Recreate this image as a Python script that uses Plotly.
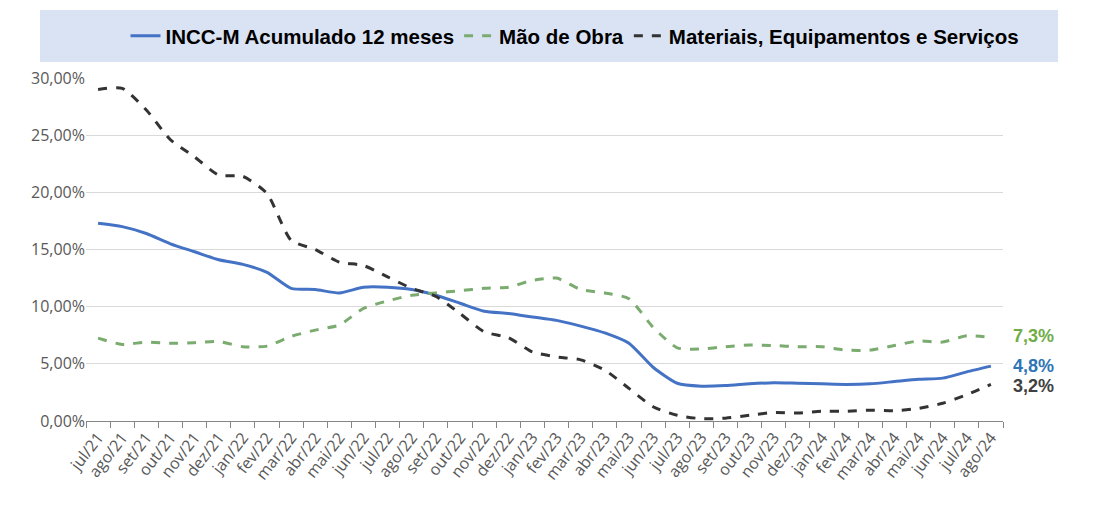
import plotly.graph_objects as go

months = ["jul/21","ago/21","set/21","out/21","nov/21","dez/21","jan/22","fev/22","mar/22","abr/22",
          "mai/22","jun/22","jul/22","ago/22","set/22","out/22","nov/22","dez/22","jan/23","fev/23",
          "mar/23","abr/23","mai/23","jun/23","jul/23","ago/23","set/23","out/23","nov/23","dez/23",
          "jan/24","fev/24","mar/24","abr/24","mai/24","jun/24","jul/24","ago/24"]

incc = [17.3, 17.0, 16.4, 15.5, 14.8, 14.1, 13.7, 13.0, 11.6, 11.5,
        11.2, 11.7, 11.7, 11.5, 11.0, 10.3, 9.6, 9.4, 9.1, 8.8,
        8.3, 7.7, 6.8, 4.7, 3.3, 3.05, 3.1, 3.25, 3.35, 3.3,
        3.25, 3.2, 3.25, 3.45, 3.65, 3.75, 4.3, 4.8]

mao_obra = [7.25, 6.7, 6.9, 6.8, 6.85, 6.95, 6.5, 6.55, 7.4, 7.95,
            8.4, 9.85, 10.5, 11.0, 11.2, 11.4, 11.6, 11.7, 12.3, 12.5,
            11.5, 11.2, 10.7, 8.2, 6.4, 6.3, 6.5, 6.65, 6.6, 6.5,
            6.5, 6.2, 6.2, 6.6, 7.0, 6.9, 7.45, 7.3]

materiais = [29.0, 29.1, 27.2, 24.6, 23.1, 21.5, 21.4, 19.9, 15.8, 15.0,
             13.9, 13.6, 12.6, 11.6, 10.9, 9.4, 7.8, 7.3, 6.05, 5.6,
             5.35, 4.45, 2.85, 1.25, 0.5, 0.2, 0.25, 0.5, 0.75, 0.7,
             0.85, 0.85, 0.95, 0.9, 1.1, 1.55, 2.3, 3.2]

series_names = ["INCC-M Acumulado 12 meses", "Mão de Obra", "Materiais, Equipamentos e Serviços"]
y_ticks = [0, 5, 10, 15, 20, 25, 30]
y_ticktext = ["0,00%", "5,00%", "10,00%", "15,00%", "20,00%", "25,00%", "30,00%"]
end_labels = ["7,3%", "4,8%", "3,2%"]

c_blue = "#4472c4"
c_green = "#7aab6f"
c_black = "#333333"

fig = go.Figure()
fig.add_trace(go.Scatter(x=months, y=incc, name="<b>%s</b>" % series_names[0], mode="lines",
                         line=dict(color=c_blue, width=3, shape="spline", smoothing=0.6)))
fig.add_trace(go.Scatter(x=months, y=mao_obra, name="<b>%s</b>" % series_names[1], mode="lines",
                         line=dict(color=c_green, width=3, dash="dash", shape="spline", smoothing=0.6)))
fig.add_trace(go.Scatter(x=months, y=materiais, name="<b>%s</b>" % series_names[2], mode="lines",
                         line=dict(color=c_black, width=3, dash="dash", shape="spline", smoothing=0.6)))

ann_colors = ["#70ad47", "#2e75b6", "#404040"]
ann_vals = [mao_obra[-1], incc[-1], materiais[-1]]
ann_shift = [2, 0, -2]
for txt, col, v, sh in zip(end_labels, ann_colors, ann_vals, ann_shift):
    fig.add_annotation(x=months[-1], y=v, text="<b>%s</b>" % txt, showarrow=False,
                       xanchor="left", xshift=20, yshift=sh,
                       font=dict(family="Liberation Sans, Arial", size=18, color=col))

# legend background band
fig.add_shape(type="rect", xref="paper", yref="paper",
              x0=(40 - 86) / 917, x1=(1058 - 86) / 917,
              y0=(421 - 62) / 343, y1=(421 - 10) / 343,
              fillcolor="#dae3f3", line=dict(width=0), layer="below")

fig.update_layout(
    width=1098, height=515,
    margin=dict(l=86, r=95, t=78, b=94),
    paper_bgcolor="white", plot_bgcolor="white",
    showlegend=True,
    legend=dict(orientation="h", x=(575 - 86) / 917, xanchor="center",
                y=(421 - 36) / 343, yanchor="middle",
                bgcolor="rgba(0,0,0,0)", borderwidth=0,
                font=dict(family="Liberation Sans, Arial", size=20.5, color="#000000"),
                itemwidth=30, tracegroupgap=0),
    xaxis=dict(type="category", range=[-0.5, len(months) - 0.5],
               tickson="boundaries", ticks="outside", ticklen=6,
               tickcolor="#868686", showline=True, linecolor="#868686", linewidth=1,
               showgrid=False, tickangle=-52,
               tickfont=dict(family="Open Sans, Arial", size=16, color="#595959")),
    yaxis=dict(range=[0, 30], tickvals=y_ticks, ticktext=y_ticktext,
               showgrid=True, gridcolor="#d9d9d9", gridwidth=1, zeroline=False,
               showline=False, ticks="",
               tickfont=dict(family="Open Sans, Arial", size=16, color="#595959")),
)

fig.write_html("out.html")
